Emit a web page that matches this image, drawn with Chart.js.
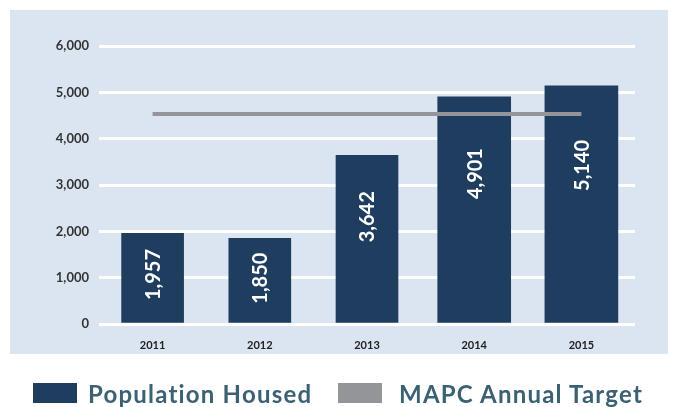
<!DOCTYPE html>
<html>
<head>
<meta charset="utf-8">
<script src="https://cdn.jsdelivr.net/npm/chart.js@4.4.0/dist/chart.umd.min.js"></script>
<style>
  html, body { margin: 0; padding: 0; background: #ffffff; }
  #wrap { position: relative; width: 673px; height: 407px; }
  canvas { position: absolute; left: 0; top: 0; }
  .leg { position: absolute; top: 381px; height: 24px; display: flex; align-items: center;
         font-family: Lato, "Open Sans", sans-serif; font-weight: 700; font-size: 24px; letter-spacing: 1.2px; color: #3b6173; white-space: nowrap; }
  .sw { display: inline-block; width: 44px; height: 20px; }
</style>
</head>
<body>
<div id="wrap">
  <canvas id="c" width="673" height="407"></canvas>
  <div class="leg" style="left:33px"><span class="sw" style="background:#1f3e5f;margin-right:11px"></span>Population Housed</div>
  <div class="leg" style="left:338px"><span class="sw" style="background:#939598;margin-right:17px"></span>MAPC Annual Target</div>
</div>
<script>
const years = ["2011", "2012", "2013", "2014", "2015"];
const populationHoused = [1957, 1850, 3642, 4901, 5140];
const annualTarget = [4530, 4530, 4530, 4530, 4530];
const yTicks = [0, 1000, 2000, 3000, 4000, 5000, 6000];

const narrowBars = populationHoused.map((v, i) => i < 3 ? v : null);
const wideBars = populationHoused.map((v, i) => i >= 3 ? v : null);

const panelPlugin = {
  id: 'panel',
  beforeDraw(chart) {
    const ctx = chart.ctx;
    ctx.save();
    ctx.fillStyle = '#dae5f1';
    ctx.fillRect(10, 10, 658, 344);
    ctx.restore();
  }
};

const labelPlugin = {
  id: 'barLabels',
  afterDatasetsDraw(chart) {
    const ctx = chart.ctx;
    const y = chart.scales.y;
    ctx.save();
    ctx.fillStyle = '#ffffff';
    ctx.font = '700 20px Lato, "Open Sans", sans-serif';
    ctx.textAlign = 'center';
    ctx.textBaseline = 'middle';
    [0, 1].forEach(di => {
      const meta = chart.getDatasetMeta(di);
      meta.data.forEach((el, i) => {
        const v = chart.data.datasets[di].data[i];
        if (v == null) return;
        const cy = y.getPixelForValue(0.74 * v - 380);
        ctx.save();
        ctx.translate(el.x, cy);
        ctx.rotate(-Math.PI / 2);
        ctx.fillText(v.toLocaleString('en-US'), 0, 1);
        ctx.restore();
      });
    });
    ctx.restore();
  }
};

new Chart(document.getElementById('c'), {
  data: {
    labels: years,
    datasets: [
      { type: 'bar', label: 'Population Housed', data: narrowBars, backgroundColor: '#1f3e5f',
        barThickness: 62, grouped: false, order: 2 },
      { type: 'bar', label: 'Population Housed ', data: wideBars, backgroundColor: '#1f3e5f',
        barThickness: 73, grouped: false, order: 2 },
      { type: 'line', label: 'MAPC Annual Target', data: annualTarget, borderColor: '#939598',
        borderWidth: 4, pointRadius: 0, fill: false, order: 0, borderCapStyle: 'butt' }
    ]
  },
  options: {
    responsive: false,
    animation: false,
    devicePixelRatio: 1,
    layout: { padding: { left: 10, right: 38, top: 46, bottom: 53 } },
    plugins: { legend: { display: false }, tooltip: { enabled: false } },
    scales: {
      x: {
        grid: { display: false, drawTicks: false },
        border: { display: false },
        ticks: { padding: 15, color: '#222222', font: { family: 'Lato, "Open Sans", sans-serif', size: 11, weight: '700' } },
        afterFit(s) { s.height = 30; }
      },
      y: {
        min: 0, max: 6000,
        afterBuildTicks(s) { s.ticks = yTicks.map(v => ({ value: v })); },
        grid: { color: '#ffffff', lineWidth: 3, drawTicks: false },
        border: { display: false },
        ticks: {
          padding: 10, color: '#333333',
          font: { family: 'Lato, "Open Sans", sans-serif', size: 13, weight: '700' },
          callback: v => v.toLocaleString('en-US')
        },
        afterFit(s) { s.width = 89; }
      }
    }
  },
  plugins: [panelPlugin, labelPlugin]
});
</script>
</body>
</html>
